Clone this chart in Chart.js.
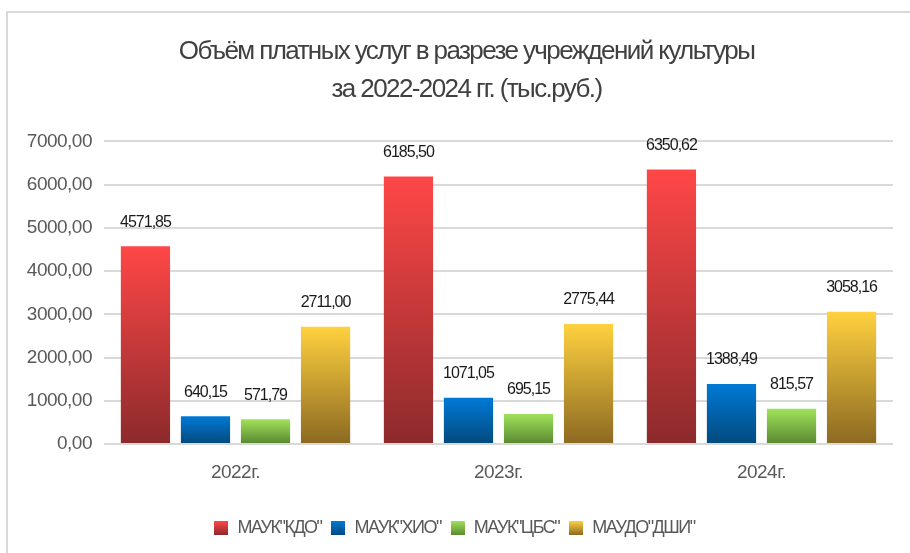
<!DOCTYPE html>
<html>
<head>
<meta charset="utf-8">
<script src="https://cdn.jsdelivr.net/npm/chart.js@4"></script>
<style>
  body { margin: 0; background: #fff; }
  #wrap { position: relative; width: 910px; height: 553px; }
  #frame { position: absolute; left: 6px; top: 11px; right: 0; bottom: 0;
           border-top: 2px solid #d9d9d9; border-left: 2px solid #d9d9d9; }
  canvas { position: absolute; left: 0; top: 0; }
</style>
</head>
<body>
<div id="wrap">
  <div id="frame"></div>
  <canvas id="barChart" width="910" height="553"></canvas>
</div>
<script>
const years = ['2022г.', '2023г.', '2024г.'];
const kdo = [4571.85, 6185.50, 6350.62];
const hio = [640.15, 1071.05, 1388.49];
const cbs = [571.79, 695.15, 815.57];
const dshi = [2711.00, 2775.44, 3058.16];
const seriesNames = ['МАУК"КДО"', 'МАУК"ХИО"', 'МАУК"ЦБС"', 'МАУДО"ДШИ"'];
const yTicks = [0, 1000, 2000, 3000, 4000, 5000, 6000, 7000];

// верх / низ градиента для каждого ряда
const gradColors = [
    ['#ff4747', '#8c2a2c'],
    ['#007ad6', '#034a7e'],
    ['#a0e25a', '#5b8a32'],
    ['#ffd13f', '#8c6a22']
];
const FONT = '"Liberation Sans", Arial, sans-serif';

const fmt = v => v.toFixed(2).replace('.', ',');

// квадратик легенды с градиентом
const legendBox = ([top, bottom]) => {
    const c = document.createElement('canvas');
    c.width = 14; c.height = 14;
    const x = c.getContext('2d');
    const g = x.createLinearGradient(0, 0, 0, 14);
    g.addColorStop(0, top);
    g.addColorStop(1, bottom);
    x.fillStyle = g;
    x.fillRect(0, 0, 14, 14);
    return c;
};

// сжатый текст как в Excel
const squeeze = (obj, method, spacing, ctx, dx = 0) => {
    const orig = obj[method];
    obj[method] = function (...a) {
        const old = ctx.letterSpacing;
        ctx.letterSpacing = spacing;
        if (dx) { ctx.save(); ctx.translate(dx, 0); }
        const r = orig.apply(this, a);
        if (dx) ctx.restore();
        ctx.letterSpacing = old;
        return r;
    };
};

const tightText = {
    id: 'tightText',
    afterInit(chart) {
        squeeze(chart.titleBlock, 'draw', '-1.6px', chart.ctx, 20);
        squeeze(chart.legend, 'fit', '-1.5px', chart.ctx);
        squeeze(chart.legend, 'draw', '-1.5px', chart.ctx, 8);
    },
    beforeDraw(chart) { chart.ctx.letterSpacing = '-0.5px'; }
};

const barGradients = {
    id: 'barGradients',
    beforeDatasetDraw(chart, args) {
        const ctx = chart.ctx;
        const [top, bottom] = gradColors[args.index];
        args.meta.data.forEach(bar => {
            const g = ctx.createLinearGradient(0, bar.y, 0, bar.base);
            g.addColorStop(0, top);
            g.addColorStop(1, bottom);
            bar.options = Object.assign({}, bar.options, {backgroundColor: g});
        });
    }
};

const valueLabels = {
    id: 'valueLabels',
    afterDatasetsDraw(chart) {
        const ctx = chart.ctx;
        ctx.save();
        ctx.letterSpacing = '-1px';
        ctx.font = '16px ' + FONT;
        ctx.fillStyle = '#1a1a1a';
        ctx.textAlign = 'center';
        ctx.textBaseline = 'middle';
        chart.data.datasets.forEach((ds, i) => {
            chart.getDatasetMeta(i).data.forEach((bar, j) => {
                ctx.fillText(fmt(ds.data[j]), bar.x, bar.y - 24);
            });
        });
        ctx.restore();
    }
};

const makeSet = (name, values, i) => ({
    label: name,
    data: values,
    backgroundColor: gradColors[i][0],
    borderWidth: 0,
    categoryPercentage: 0.913,
    barPercentage: 0.82
});

const data = {
    labels: years,
    datasets: [
        makeSet(seriesNames[0], kdo, 0),
        makeSet(seriesNames[1], hio, 1),
        makeSet(seriesNames[2], cbs, 2),
        makeSet(seriesNames[3], dshi, 3)
    ]
};

const options = {
    responsive: false,
    animation: false,
    layout: { padding: { left: 0, right: 17, top: 33, bottom: 6 } },
    plugins: {
        title: {
            display: true,
            text: ['Объём платных услуг в разрезе учреждений культуры', 'за 2022-2024 гг. (тыс.руб.)'],
            color: '#404040',
            font: { family: FONT, size: 26, weight: 'normal', lineHeight: 1.45 },
            padding: { top: 0, bottom: 33 }
        },
        legend: {
            position: 'bottom',
            labels: {
                color: '#595959',
                font: { family: FONT, size: 18 },
                boxWidth: 14,
                boxHeight: 14,
                padding: 10,
                usePointStyle: true,
                generateLabels(chart) {
                    return chart.data.datasets.map((ds, i) => ({
                        text: ds.label,
                        pointStyle: legendBox(gradColors[i]),
                        fillStyle: gradColors[i][0],
                        strokeStyle: gradColors[i][0],
                        lineWidth: 0,
                        datasetIndex: i,
                        fontColor: '#595959'
                    }));
                }
            }
        },
        tooltip: { enabled: false }
    },
    scales: {
        x: {
            grid: { display: false },
            border: { display: false },
            ticks: { color: '#595959', font: { family: FONT, size: 19 }, padding: 9 },
            afterFit(scale) { scale.height = 65; }
        },
        y: {
            min: 0,
            max: 7000,
            afterBuildTicks(scale) { scale.ticks = yTicks.map(v => ({value: v})); },
            grid: { color: '#d9d9d9', lineWidth: 2, drawTicks: false },
            border: { display: false },
            ticks: {
                color: '#595959',
                font: { family: FONT, size: 19 },
                padding: 12,
                callback: v => fmt(v)
            },
            afterFit(scale) { scale.width = 104; }
        }
    }
};

new Chart('barChart', { type: 'bar', data, options, plugins: [tightText, barGradients, valueLabels] });
</script>
</body>
</html>
